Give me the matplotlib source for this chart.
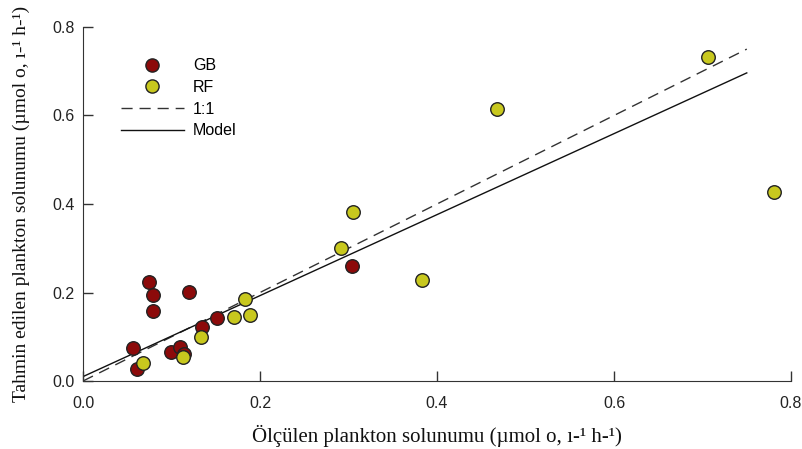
import numpy as np
import matplotlib.pyplot as plt
from matplotlib.lines import Line2D

# measured vs predicted plankton respiration
gb_x = [0.056, 0.061, 0.075, 0.079, 0.079, 0.120, 0.099, 0.110, 0.114, 0.134, 0.151, 0.304]
gb_y = [0.075, 0.027, 0.224, 0.195, 0.158, 0.201, 0.066, 0.077, 0.061, 0.122, 0.142, 0.260]

rf_x = [0.068, 0.113, 0.133, 0.171, 0.183, 0.189, 0.292, 0.305, 0.383, 0.468, 0.706, 0.781]
rf_y = [0.041, 0.054, 0.099, 0.144, 0.185, 0.149, 0.301, 0.382, 0.228, 0.614, 0.732, 0.427]

line_x = [0.0, 0.75]
model_intercept = 0.01
model_slope = 0.915

ticks = [0.0, 0.2, 0.4, 0.6, 0.8]
tick_labels = ["0.0", "0.2", "0.4", "0.6", "0.8"]

gb_color = "#8c0a0a"
rf_color = "#c8c81e"

fig = plt.figure(figsize=(8.02, 4.49), dpi=100)
ax = fig.add_axes([0.1035, 0.1514, 0.8828, 0.7885])

lx = np.array(line_x)
ax.plot(lx, lx, color="#333333", linestyle=(0, (8, 5)), linewidth=1.0, zorder=2)
ax.plot(lx, model_intercept + model_slope * lx, color="#111111", linewidth=1.0, zorder=2)

ax.scatter(gb_x, gb_y, s=95, color=gb_color, edgecolor="#222222", linewidth=1.0, zorder=3)
ax.scatter(rf_x, rf_y, s=95, color=rf_color, edgecolor="#222222", linewidth=1.0, zorder=4)

ax.set_xlim(0, 0.8)
ax.set_ylim(0, 0.8)
ax.set_xticks(ticks)
ax.set_xticklabels(tick_labels)
ax.set_yticks(ticks)
ax.set_yticklabels(tick_labels)
ax.tick_params(direction="in", length=7, width=1, colors="#333333", labelsize=11.5,
               labelcolor="#222222", pad=6)
ax.tick_params(axis="x", pad=11)
for lab in ax.get_xticklabels() + ax.get_yticklabels():
    lab.set_fontfamily("Liberation Sans")

ax.spines["top"].set_visible(False)
ax.spines["right"].set_visible(False)
ax.spines["left"].set_color("#333333")
ax.spines["bottom"].set_color("#333333")

ax.set_xlabel("Ölçülen plankton solunumu (µmol o, ı-¹ h-¹)", fontfamily="Liberation Serif",
              fontsize=15, color="#111111", labelpad=10)
ax.set_ylabel("Tahmin edilen plankton solunumu (µmol o, ı-¹ h-¹)", fontfamily="Liberation Serif",
              fontsize=14, color="#111111", labelpad=16)

handles = [
    Line2D([], [], linestyle="none", marker="o", markersize=9.5, markerfacecolor=gb_color,
           markeredgecolor="#222222"),
    Line2D([], [], linestyle="none", marker="o", markersize=9.5, markerfacecolor=rf_color,
           markeredgecolor="#222222"),
    Line2D([], [], color="#333333", linestyle=(0, (8, 5)), linewidth=1.0),
    Line2D([], [], color="#111111", linewidth=1.0),
]
ax.legend(handles, ["GB", "RF", "1:1", "Model"], loc="upper left",
          bbox_to_anchor=(0.045, 0.93), frameon=False, handlelength=3.9,
          handletextpad=0.6, labelspacing=0.42, borderaxespad=0,
          prop={"family": "Liberation Sans", "size": 11.5})

fig.savefig("out.png", dpi=100)
